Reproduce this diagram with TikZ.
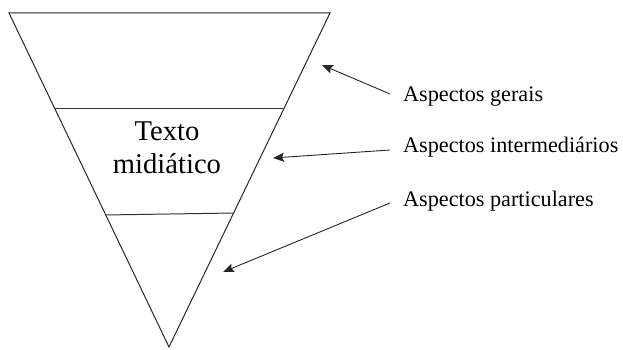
\documentclass[tikz,border=0pt]{standalone}
\usepackage{fontspec}
\setmainfont{Liberation Serif}
\usetikzlibrary{arrows.meta}
\begin{document}
\begin{tikzpicture}[x=1pt,y=1pt,
    funnel/.style={draw=black!85,line width=1pt,line join=miter},
    divider/.style={draw=black!80,line width=1pt},
    pointer/.style={draw=black!85,line width=0.9pt,-{Stealth[length=11pt,width=9pt,inset=2pt]}},
    label/.style={anchor=base west,inner sep=0pt,font=\fontsize{22.2}{26}\selectfont},
    title/.style={align=center,inner sep=0pt,font=\fontsize{28.6}{33}\selectfont}]
  \useasboundingbox (0,0) rectangle (623,350);
  % inverted triangle
  \coordinate (tl) at (9,337);
  \coordinate (tr) at (330,337);
  \coordinate (ap) at (169,3);
  \draw[funnel] (tl) -- (tr) -- (ap) -- cycle;
  % level dividers
  \coordinate (d1l) at (55,241);
  \coordinate (d1r) at (284,241);
  \coordinate (d2l) at (105,135);
  \coordinate (d2r) at (234,137);
  \draw[divider] (d1l) -- (d1r);
  \draw[divider] (d2l) -- (d2r);
  % middle text
  \node[title] (mid) at (167,202) {Texto\\midiático};
  % side labels
  \node[label] (g) at (403,248) {Aspectos gerais};
  \node[label] (i) at (403,197) {Aspectos intermediários};
  \node[label] (p) at (403,143) {Aspectos particulares};
  % arrows
  \coordinate (t1) at (390,256);
  \coordinate (h1) at (322,285);
  \coordinate (t2) at (390,200);
  \coordinate (h2) at (273,192);
  \coordinate (t3) at (390,147);
  \coordinate (h3) at (223,78);
  \draw[pointer] (t1) -- (h1);
  \draw[pointer] (t2) -- (h2);
  \draw[pointer] (t3) -- (h3);
\end{tikzpicture}
\end{document}
